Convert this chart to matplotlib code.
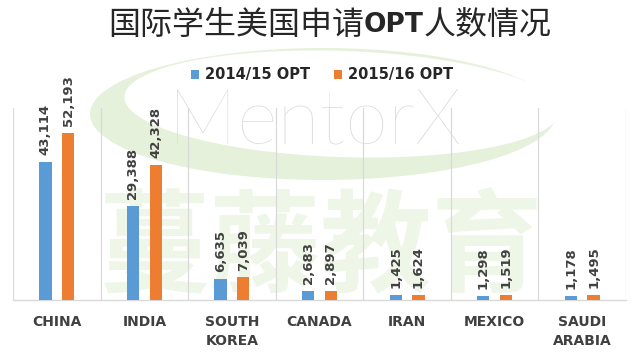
import matplotlib
matplotlib.use("Agg")
import matplotlib.pyplot as plt
from matplotlib.patches import Ellipse, Patch
import numpy as np

categories = ["CHINA", "INDIA", "SOUTH\nKOREA", "CANADA", "IRAN", "MEXICO", "SAUDI\nARABIA"]
series_names = ["2014/15 OPT", "2015/16 OPT"]
values_1415 = [43114, 29388, 6635, 2683, 1425, 1298, 1178]
values_1516 = [52193, 42328, 7039, 2897, 1624, 1519, 1495]
title_parts = ["国际学生美国申请", "OPT", "人数情况"]

BLUE = "#5B9BD5"
ORANGE = "#ED7D31"
TXT = "#404040"
W, H = 640, 357
BOLDFONT = ["DejaVu Sans"]

fig = plt.figure(figsize=(6.4, 3.57), dpi=100)
fig.patch.set_facecolor("white")

# ---- watermark (decoration) ----
def px(x, y):
    return (x / W, 1 - y / H)

ring_col = "#e6f1dc"
outer = Ellipse(px(323, 114), 466 / W, 132 / H, transform=fig.transFigure,
                facecolor=ring_col, edgecolor="none", zorder=0)
inner = Ellipse(px(342, 104), 436 / W, 106 / H, angle=-4, transform=fig.transFigure,
                facecolor="white", edgecolor="none", zorder=0.1)
fig.patches.extend([outer, inner])
fig.text(315 / W, 1 - 143 / H, "MentorX", fontsize=56, family=["Lato", "DejaVu Sans"],
         fontweight="light", color="#dcdcdc", ha="center", va="baseline", zorder=0.2)
fig.text(320 / W, 1 - 250 / H, "蔓藤教育", fontsize=80, family=["Noto Sans CJK SC"],
         fontweight="bold", color="#eef6e8", ha="center", va="center", zorder=0.2)

# ---- axes ----
ax = fig.add_axes([13 / W, 57 / H, 613 / W, 192 / H])
ax.set_facecolor("none")
ax.set_zorder(1)
x = np.arange(len(categories))
bw = 0.14
off = 0.13
b1 = ax.bar(x - off, values_1415, bw, color=BLUE, zorder=3)
b2 = ax.bar(x + off, values_1516, bw, color=ORANGE, zorder=3)
ax.set_xlim(-0.5, len(categories) - 0.5)
ax.set_ylim(0, 60000)
ax.set_yticks([])
for s in ["top", "left", "right"]:
    ax.spines[s].set_visible(False)
ax.spines["bottom"].set_color("#d9d9d9")
ax.spines["bottom"].set_linewidth(1.0)
ax.set_xticks(x)
ax.set_xticklabels(categories, fontsize=10, fontweight="bold", color=TXT,
                   family=BOLDFONT, linespacing=1.45)
ax.tick_params(axis="x", length=0, pad=11)
ax.set_xticks(np.arange(-0.5, len(categories)), minor=True)
ax.tick_params(axis="x", which="minor", length=0)
ax.grid(True, which="minor", axis="x", color="#d9d9d9", linewidth=0.9, zorder=0)

for bars in (b1, b2):
    for r in bars:
        v = r.get_height()
        ax.annotate(f"{int(v):,}", (r.get_x() + r.get_width() / 2, v),
                    xytext=(0, 5), textcoords="offset points", rotation=90,
                    ha="center", va="bottom", fontsize=9.5, fontweight="bold",
                    color=TXT, family=BOLDFONT, zorder=4,
                    annotation_clip=False)

# ---- legend ----
handles = [Patch(facecolor=BLUE), Patch(facecolor=ORANGE)]
leg = fig.legend(handles, series_names, loc="center", bbox_to_anchor=(322 / W, 1 - 75 / H),
                 ncol=2, frameon=False, handlelength=0.6, handleheight=0.6,
                 handletextpad=0.4, columnspacing=1.6,
                 prop={"family": BOLDFONT, "weight": "bold", "size": 10.5})
for t in leg.get_texts():
    t.set_color("#262626")

# ---- title in three pieces ----
renderer = fig.canvas.get_renderer()
xpos = 108 / W
ty = 1 - 25 / H
styles = [
    dict(family=["Noto Sans CJK SC"], fontweight="light", color="#262626", fontsize=23),
    dict(family=BOLDFONT, fontweight="bold", color="#262626", fontsize=19),
    dict(family=["Noto Sans CJK SC"], fontweight="light", color="#262626", fontsize=23),
]
for part, st in zip(title_parts, styles):
    t = fig.text(xpos, ty, part, ha="left", va="center", **st)
    bb = t.get_window_extent(renderer)
    xpos = bb.x1 / (fig.dpi * fig.get_figwidth())

fig.savefig("out.png", dpi=100, facecolor="white")
